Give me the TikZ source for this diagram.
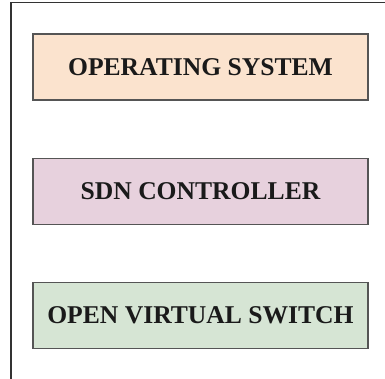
\documentclass[tikz,border=0pt]{standalone}
\usepackage{fontspec}
\setmainfont{Liberation Serif}
\definecolor{osfill}{RGB}{251,227,206}
\definecolor{sdnfill}{RGB}{231,209,221}
\definecolor{ovsfill}{RGB}{214,229,212}
\definecolor{boxline}{RGB}{85,85,85}
\definecolor{txt}{RGB}{26,26,26}
\begin{document}
\begin{tikzpicture}[x=1pt,y=-1pt,
  layer/.style={draw=boxline, line width=1.3pt, minimum width=335pt, minimum height=66pt,
    inner sep=0pt, text=txt, font=\fontsize{25.6}{28}\selectfont\bfseries}]
  \useasboundingbox[fill=white] (0,0) rectangle (385,379);
  % frame along the top and left sides
  \coordinate (ftl) at (11,2.5);
  \coordinate (ftr) at (385,2.5);
  \coordinate (fbl) at (11,379);
  \draw[line width=1.3pt, draw=black!80] (ftr) -- (ftl) -- (fbl);
  % stacked layers
  \node[layer, fill=osfill]  (os)  at (200.5,67)  {OPERATING SYSTEM};
  \node[layer, fill=sdnfill] (sdn) at (200.5,191.5) {SDN CONTROLLER};
  \node[layer, fill=ovsfill] (ovs) at (200.5,315.5) {OPEN VIRTUAL SWITCH};
\end{tikzpicture}
\end{document}
